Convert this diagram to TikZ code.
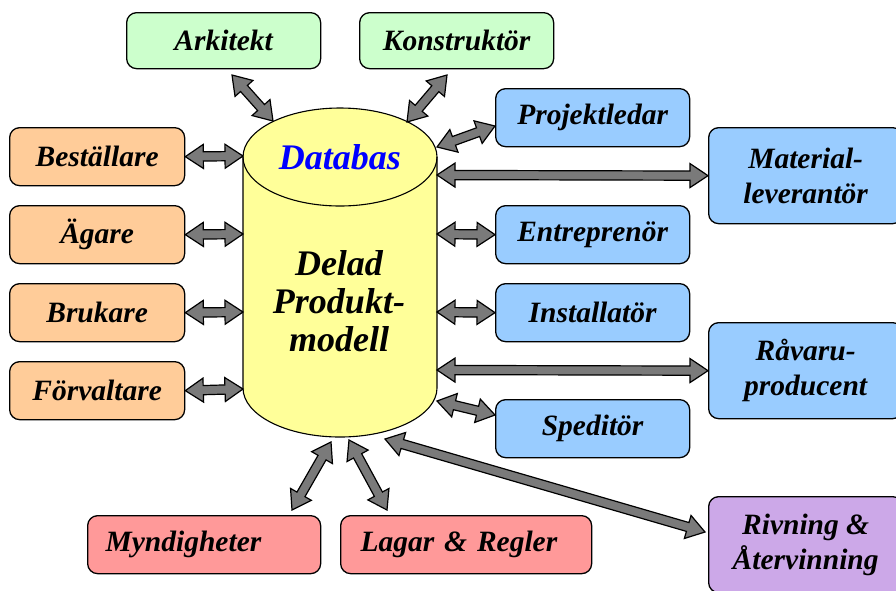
\documentclass[tikz,border=0pt]{standalone}
\usepackage{fontspec}
\setmainfont{Liberation Serif}
\usetikzlibrary{calc}

\definecolor{rolegreen}{HTML}{CCFFCC}
\definecolor{roleorange}{HTML}{FFCC99}
\definecolor{roleblue}{HTML}{99CCFF}
\definecolor{rolered}{HTML}{FF9999}
\definecolor{rolepurple}{HTML}{CCA8E8}
\definecolor{dbyellow}{HTML}{FFFF99}
\definecolor{arrowgray}{HTML}{7A7A7A}

\newcommand\rolefont{\fontsize{29.5}{35}\selectfont\bfseries\itshape}
\newcommand\corefont{\fontsize{36}{38}\selectfont\bfseries\itshape}

\tikzset{
  rolebox/.style={draw=black, line width=1.3pt, rounded corners=10pt,
    anchor=north west, inner sep=0pt, align=center, font=\rolefont,
    minimum width=194pt, minimum height=58pt},
  leftbox/.style={draw=black, line width=1.3pt, rounded corners=10pt,
    anchor=north west, inner ysep=0pt, align=left, font=\rolefont,
    minimum height=58pt},
  blockarrow/.style={draw=black, line width=1.2pt, fill=arrowgray, line join=miter},
}

% double-headed block arrow between two named points
\newcommand\dblarrow[2]{%
  \draw[blockarrow] let \p1=(#1), \p2=(#2),
      \n1={atan2(\y2-\y1,\x2-\x1)}, \n2={veclen(\x2-\x1,\y2-\y1)} in
    (\p1)
    -- ($(\p1)+(\n1:18pt)+({\n1+90}:12pt)$)
    -- ($(\p1)+(\n1:18pt)+({\n1+90}:4.6pt)$)
    -- ($(\p1)+({\n1}:{\n2-18pt})+({\n1+90}:4.6pt)$)
    -- ($(\p1)+({\n1}:{\n2-18pt})+({\n1+90}:12pt)$)
    -- (\p2)
    -- ($(\p1)+({\n1}:{\n2-18pt})+({\n1-90}:12pt)$)
    -- ($(\p1)+({\n1}:{\n2-18pt})+({\n1-90}:4.6pt)$)
    -- ($(\p1)+(\n1:18pt)+({\n1-90}:4.6pt)$)
    -- ($(\p1)+(\n1:18pt)+({\n1-90}:12pt)$)
    -- cycle;}

\begin{document}
\begin{tikzpicture}[x=1pt,y=1pt]
\useasboundingbox (0,0) rectangle (896,-590);
\clip (0,0) rectangle (896,-590);

% shared product model: the database cylinder
\fill[dbyellow] (243,-157) -- (243,-388)
  arc[start angle=180,end angle=360,x radius=97pt,y radius=49pt]
  -- (437,-157)
  arc[start angle=0,end angle=180,x radius=97pt,y radius=49pt] -- cycle;
\draw[line width=1.1pt] (243,-157) -- (243,-388)
  arc[start angle=180,end angle=360,x radius=97pt,y radius=49pt]
  -- (437,-157);
\draw[line width=1.1pt] (340,-157) ellipse [x radius=97pt, y radius=49pt];
\node[font=\corefont, text=blue] (dbtop) at (340,-157) {Databas};
\node[font=\corefont, align=center] (dbcore) at (339,-301) {Delad\\Produkt-\\modell};

% attachment points on the cylinder
\coordinate (cArk) at (273,-121);
\coordinate (cKon) at (407,-122);
\coordinate (cBes) at (243,-156);
\coordinate (cAga) at (243,-234);
\coordinate (cBru) at (243,-312);
\coordinate (cFor) at (243,-389);
\coordinate (cPro) at (437,-147);
\coordinate (cMat) at (437,-175);
\coordinate (cEnt) at (437,-234);
\coordinate (cIns) at (437,-312);
\coordinate (cRav) at (437,-370);
\coordinate (cSpe) at (437,-401);
\coordinate (cMyn) at (331,-442);
\coordinate (cLag) at (349,-440);
\coordinate (cRiv) at (385,-439);

% participants
\node[rolebox, fill=rolegreen, minimum height=56pt] (ark) at (126,-12) {Arkitekt};
\node[rolebox, fill=rolegreen, minimum height=56pt] (kon) at (359,-12) {Konstruktör};

\node[rolebox, fill=roleorange, minimum width=175pt] (bes) at (9,-127) {Beställare};
\node[rolebox, fill=roleorange, minimum width=175pt] (aga) at (9,-205) {Ägare};
\node[rolebox, fill=roleorange, minimum width=175pt] (bru) at (9,-283) {Brukare};
\node[rolebox, fill=roleorange, minimum width=175pt] (for) at (9,-361) {Förvaltare};

\node[rolebox, fill=roleblue] (pro) at (495,-88) {Projektledar};
\node[rolebox, fill=roleblue, minimum height=96pt] (mat) at (708,-127) {Material-\\leverantör};
\node[rolebox, fill=roleblue] (ent) at (495,-205) {Entreprenör};
\node[rolebox, fill=roleblue] (ins) at (495,-283) {Installatör};
\node[rolebox, fill=roleblue, minimum height=96pt] (rav) at (708,-322) {Råvaru-\\producent};
\node[rolebox, fill=roleblue] (spe) at (495,-399) {Speditör};

\node[leftbox, fill=rolered, inner xsep=18pt, text width=197pt] (myn) at (87,-515) {Myndigheter};
\node[leftbox, fill=rolered, inner xsep=20pt, text width=211pt] (lag) at (340,-515) {Lagar \& Regler};

\node[rolebox, fill=rolepurple, minimum height=96pt] (riv) at (708,-496) {Rivning \&\\Återvinning};

% box-side ends of the diagonal arrows
\coordinate (bArk) at (232,-75);
\coordinate (bKon) at (447,-75);
\coordinate (bPro) at (495,-126);
\coordinate (bSpe) at (495,-415);
\coordinate (bMyn) at (292,-510);
\coordinate (bLag) at (387,-510);
\coordinate (bRiv) at (705,-532);

% information exchange with the shared model
\dblarrow{cArk}{bArk}
\dblarrow{cKon}{bKon}
\dblarrow{cBes}{bes.east}
\dblarrow{cAga}{aga.east}
\dblarrow{cBru}{bru.east}
\dblarrow{cFor}{for.east}
\dblarrow{cPro}{bPro}
\dblarrow{cMat}{mat.west}
\dblarrow{cEnt}{ent.west}
\dblarrow{cIns}{ins.west}
\dblarrow{cRav}{rav.west}
\dblarrow{cSpe}{bSpe}
\dblarrow{cMyn}{bMyn}
\dblarrow{cLag}{bLag}
\dblarrow{cRiv}{bRiv}
\end{tikzpicture}
\end{document}
